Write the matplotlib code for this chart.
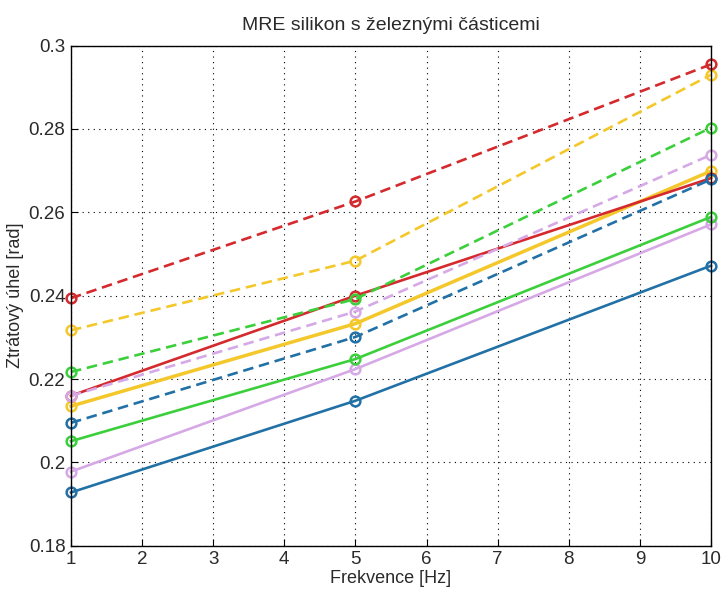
import matplotlib
matplotlib.use("Agg")
import matplotlib.pyplot as plt

# frequencies [Hz]
freq = [1, 5, 10]

# loss angle [rad], solid series
blue_solid = [0.1928, 0.2148, 0.2472]
lav_solid = [0.1978, 0.2224, 0.2571]
green_solid = [0.2051, 0.2248, 0.2589]
yellow_solid = [0.2135, 0.2333, 0.2699]
red_solid = [0.2160, 0.2400, 0.2682]

# dashed series
blue_dash = [0.2095, 0.2301, 0.2679]
lav_dash = [0.2160, 0.2362, 0.2738]
green_dash = [0.2217, 0.2392, 0.2803]
yellow_dash = [0.2317, 0.2484, 0.2930]
red_dash = [0.2394, 0.2626, 0.2955]

xticks = list(range(1, 11))
yticks = [0.18, 0.2, 0.22, 0.24, 0.26, 0.28, 0.3]
ytick_labels = ['0.18', '0.2', '0.22', '0.24', '0.26', '0.28', '0.3']

c_blue = '#2271a6'
c_lav = '#d6a9e6'
c_green = '#3ccf3c'
c_yellow = '#f4c82a'
c_red = '#d42a2e'
c_text = '#2a2a2a'

plt.rcParams['font.family'] = ['Liberation Sans', 'DejaVu Sans']

fig = plt.figure(figsize=(7.24, 5.92), dpi=100)
ax = fig.add_axes([0.098, 0.078, 0.884, 0.845])

series = [
    (blue_solid, c_blue, '-', 1.9),
    (lav_solid, c_lav, '-', 1.9),
    (green_solid, c_green, '-', 1.9),
    (yellow_solid, c_yellow, '-', 2.5),
    (red_solid, c_red, '-', 1.9),
    (blue_dash, c_blue, '--', 1.9),
    (lav_dash, c_lav, '--', 1.9),
    (green_dash, c_green, '--', 1.9),
    (yellow_dash, c_yellow, '--', 1.9),
    (red_dash, c_red, '--', 1.9),
]
for vals, col, ls, lw in series:
    line, = ax.plot(freq, vals, ls, color=col, lw=lw, marker='o', ms=7,
                    mfc='none', mec=col, mew=1.8, clip_on=False)
    if ls == '--':
        line.set_dashes((4, 2.2))

ax.set_xlim(1, 10)
ax.set_ylim(0.18, 0.3)
ax.set_xticks(xticks)
ax.set_yticks(yticks)
ax.set_yticklabels(ytick_labels)
ax.grid(True, color='black', linestyle=(0, (1, 4)), linewidth=0.8)
ax.tick_params(direction='in', length=5, labelsize=13.5, labelcolor=c_text,
               top=False, right=False, pad=4)
for s in ax.spines.values():
    s.set_linewidth(1.0)

ax.set_title('MRE silikon s železnými částicemi', fontsize=14, pad=11, color=c_text)
ax.set_xlabel('Frekvence [Hz]', fontsize=13, labelpad=1, color=c_text)
ax.set_ylabel('Ztrátový úhel [rad]', fontsize=13, labelpad=3, color=c_text)

fig.savefig('out.png', dpi=100)
